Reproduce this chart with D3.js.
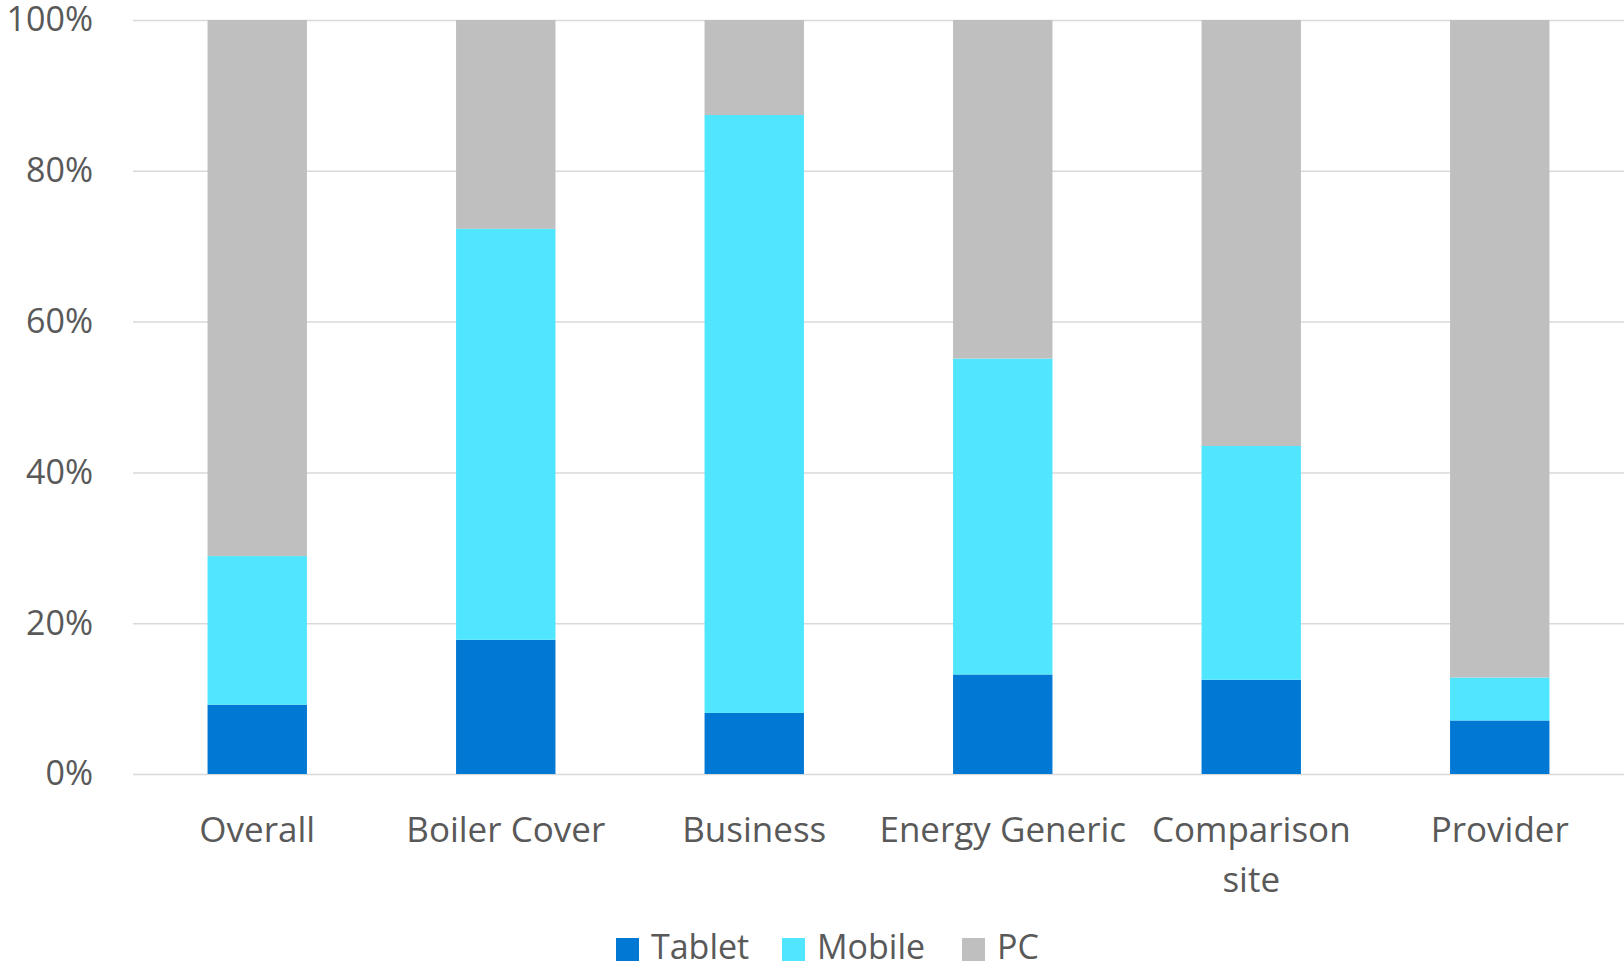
<!DOCTYPE html>
<html>
<head>
<meta charset="utf-8">
<script src="https://cdn.jsdelivr.net/npm/d3@7"></script>
<style>
  html, body { margin: 0; padding: 0; background: #fff; overflow: hidden; }
  svg { display: block; font-family: "Open Sans", "Noto Sans", sans-serif; }
</style>
</head>
<body>
<svg id="chart" width="1624" height="967"></svg>
<script>
// chart values (percent of each category)
const categories = ["Overall", "Boiler Cover", "Business", "Energy Generic", "Comparison site", "Provider"];
const seriesNames = ["Tablet", "Mobile", "PC"];
const tablet = [9.2, 17.8, 8.1, 13.2, 12.5, 7.1];
const mobile = [19.7, 54.5, 79.3, 41.9, 31.0, 5.7];
const pc = [71.1, 27.7, 12.6, 44.9, 56.5, 87.2];
const yTicks = [0, 20, 40, 60, 80, 100];

const colors = { Tablet: "#0078d4", Mobile: "#50e6ff", PC: "#bfbfbf" };
const textColor = "#595959";
const fontFamily = "'Open Sans', 'Noto Sans', sans-serif";

const svg = d3.select("#chart");
const margin = { top: 20, right: 0, bottom: 193, left: 133 };
const width = 1624 - margin.left - margin.right;
const height = 967 - margin.top - margin.bottom;

const g = svg.append("g").attr("transform", "translate(" + margin.left + "," + margin.top + ")");

const x = d3.scaleBand().domain(categories).range([0, width]).paddingInner(0.6).paddingOuter(0.3);
const y = d3.scaleLinear().domain([0, 100]).range([height, 0]);

// gridlines + y labels
const yAxis = g.append("g")
    .call(d3.axisLeft(y).tickValues(yTicks).tickSize(-width).tickFormat(d => d + "%"));
yAxis.attr("font-family", fontFamily);
yAxis.select(".domain").remove();
yAxis.selectAll(".tick line").attr("stroke", "#d9d9d9").attr("stroke-width", 1.5);
yAxis.selectAll(".tick text")
    .attr("x", -40)
    .attr("fill", textColor)
    .style("font-size", "34px");

// stacked bars
const rows = categories.map((c, i) => ({ cat: c, Tablet: tablet[i], Mobile: mobile[i], PC: pc[i] }));
const stacked = d3.stack().keys(seriesNames)(rows);

g.append("g").selectAll("g")
    .data(stacked)
    .join("g")
    .attr("fill", d => colors[d.key])
    .selectAll("rect")
    .data(d => d)
    .join("rect")
    .attr("x", d => x(d.data.cat))
    .attr("y", d => y(d[1]))
    .attr("width", x.bandwidth())
    .attr("height", d => y(d[0]) - y(d[1]));

// category labels, long ones wrap onto two lines
const xAxis = g.append("g")
    .attr("transform", "translate(0," + height + ")")
    .call(d3.axisBottom(x).tickSize(0).tickPadding(0));
xAxis.attr("font-family", fontFamily);
xAxis.select(".domain").remove();
xAxis.selectAll(".tick text")
    .attr("fill", textColor)
    .style("font-size", "35px")
    .attr("y", 68)
    .attr("dy", null)
    .each(function(d) {
        const t = d3.select(this);
        const words = d.split(" ");
        t.text(d);
        if (this.getComputedTextLength() > 252 && words.length > 1) {
            t.text(null);
            t.append("tspan").attr("x", 0).text(words.slice(0, -1).join(" "));
            t.append("tspan").attr("x", 0).attr("dy", 50).text(words[words.length - 1]);
        }
    });

// legend
const legendItems = [
    { name: "Tablet", x: 616 },
    { name: "Mobile", x: 782 },
    { name: "PC", x: 962 }
];
const legend = svg.append("g");
legend.selectAll("rect")
    .data(legendItems)
    .join("rect")
    .attr("x", d => d.x)
    .attr("y", 938)
    .attr("width", 23)
    .attr("height", 23)
    .attr("fill", d => colors[d.name]);
legend.selectAll("text")
    .data(legendItems)
    .join("text")
    .attr("x", d => d.x + 35)
    .attr("y", 959)
    .attr("fill", textColor)
    .style("font-size", "34px")
    .text(d => d.name);
</script>
</body>
</html>
